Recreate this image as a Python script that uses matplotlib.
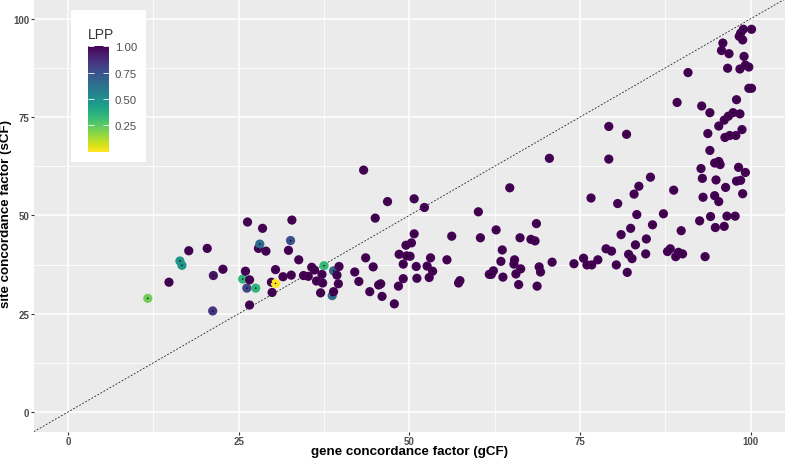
import matplotlib
matplotlib.use("Agg")
import matplotlib.pyplot as plt
import numpy as np
from matplotlib.patches import Rectangle
from matplotlib.cm import ScalarMappable
from matplotlib.colors import Normalize

plt.rcParams['font.family'] = ['Liberation Sans', 'DejaVu Sans']

# gene concordance factor, site concordance factor, LPP
gcf = [11.7, 14.8, 16.4, 16.7, 17.7, 20.4, 21.3, 21.2, 22.7, 25.6, 26.0, 26.2, 26.3, 26.6, 26.6,
       27.5, 27.9, 28.1, 28.5, 29.0, 29.8, 29.9, 30.4, 30.4, 31.5, 32.3, 32.6, 32.7, 32.8, 33.8,
       34.5, 35.2, 35.7, 36.1, 36.4, 37.0, 37.2, 37.3, 37.5, 38.7, 38.9, 38.9, 39.4, 39.6, 39.7,
       42.0, 42.6, 43.3, 43.6, 44.2, 44.7, 45.0, 45.5, 45.8, 46.0, 46.8, 47.8, 48.4, 48.5, 49.1,
       49.1, 49.5, 49.6, 50.1, 50.3, 50.7, 50.7, 51.0, 51.1, 52.2, 52.6, 52.9, 53.1, 53.4, 55.5,
       56.2, 57.2, 57.4, 60.1, 60.4, 61.7, 62.0, 62.3, 62.7, 63.4, 63.6, 63.7, 64.7, 65.3, 65.4,
       65.6, 66.0, 66.2, 66.3, 67.8, 68.4, 68.6, 68.7, 69.0, 69.2, 70.5, 70.9, 74.1, 75.5, 76.0,
       76.6, 76.7, 77.6, 78.8, 79.2, 79.2, 79.6, 80.3, 80.5, 81.0, 81.8, 81.9, 82.1, 82.4, 82.6,
       82.9, 83.1, 83.3, 83.6, 84.6, 84.7, 85.3, 85.6, 87.2, 87.8, 88.2, 88.7, 89.0, 89.2, 89.4,
       89.8, 90.0, 90.8, 92.5, 92.7, 92.8, 92.9, 93.0, 93.3, 93.7, 94.0, 94.0, 94.1, 94.7, 94.7,
       94.8, 94.9, 95.3, 95.3, 95.3, 95.5, 95.7, 95.9, 96.1, 96.1, 96.2, 96.3, 96.5, 96.6, 96.7,
       96.8, 96.9, 97.4, 97.7, 97.8, 97.9, 97.9, 98.2, 98.3, 98.4, 98.4, 98.5, 98.5, 98.7, 98.8,
       98.8, 98.9, 99.0, 99.2, 99.2, 99.7, 99.7, 100.1, 100.1]
scf = [28.9, 33.0, 38.4, 37.3, 41.0, 41.6, 34.7, 25.7, 36.3, 33.8, 35.8, 31.5, 48.3, 33.6, 27.2,
       31.5, 41.6, 42.7, 46.7, 40.9, 33.0, 30.4, 36.2, 32.7, 34.4, 41.1, 43.6, 34.8, 48.8, 38.7,
       34.7, 34.5, 36.8, 36.1, 33.3, 30.3, 35.0, 32.8, 37.2, 29.6, 30.6, 35.9, 34.8, 32.6, 37.0,
       35.6, 33.2, 61.5, 39.2, 30.6, 36.9, 49.3, 32.3, 32.6, 29.4, 53.5, 27.5, 32.0, 40.1, 37.6,
       33.9, 42.4, 39.7, 39.6, 43.0, 54.2, 45.3, 37.0, 34.0, 52.0, 37.1, 34.2, 39.2, 35.8, 38.7,
       44.7, 32.8, 33.4, 50.9, 44.3, 35.0, 35.0, 35.9, 46.3, 38.3, 41.2, 34.3, 57.0, 37.6, 38.7,
       35.1, 32.4, 44.3, 36.4, 43.9, 43.5, 47.9, 32.0, 36.9, 35.6, 64.5, 38.1, 37.7, 39.1, 37.4,
       54.4, 37.4, 38.7, 41.5, 72.6, 64.3, 40.9, 37.4, 53.0, 45.1, 70.6, 35.5, 40.1, 46.7, 39.0,
       55.4, 42.5, 50.2, 57.4, 40.2, 44.0, 59.7, 47.6, 50.4, 40.8, 41.5, 56.4, 39.5, 78.7, 40.6,
       46.1, 40.2, 86.3, 48.6, 61.9, 77.8, 59.4, 54.6, 39.5, 70.8, 76.1, 66.5, 49.7, 63.3, 55.0,
       46.9, 59.0, 63.7, 72.7, 53.5, 62.9, 91.9, 93.8, 74.2, 47.2, 69.8, 57.1, 49.8, 87.4, 75.2,
       91.1, 70.3, 76.1, 49.8, 70.3, 79.4, 58.7, 62.2, 95.5, 87.2, 75.8, 96.3, 58.9, 71.8, 94.6,
       55.5, 97.3, 90.4, 88.2, 60.9, 87.7, 82.3, 82.3, 97.3]
# first 45 points carry the lower-support values, the rest are 1.00
lpp = [0.22, 1, 0.48, 0.48, 1, 1, 0.95, 0.85, 1, 0.35, 1, 0.8, 1, 1, 1,
       0.35, 1, 0.65, 1, 1, 1, 1, 1, 0.0, 1, 1, 0.75, 1, 1, 1,
       1, 1, 1, 1, 1, 1, 1, 1, 0.33, 0.65, 1, 0.67, 1, 1, 1] + [1.0] * 144

cbar_ticks = [0.25, 0.50, 0.75, 1.00]
cbar_labels = ['0.25', '0.50', '0.75', '1.00']
axis_ticks = [0, 25, 50, 75, 100]

W, H = 787, 460
fig = plt.figure(figsize=(W / 100, H / 100), dpi=100)
ax = fig.add_axes([33.75 / W, 1 - 432.7 / H, (785 - 33.75) / W, 432.7 / H])
ax.set_facecolor('#EBEBEB')
for s in ax.spines.values():
    s.set_visible(False)

ax.set_xlim(-5, 105)
ax.set_ylim(-5, 105)
ax.set_xticks(axis_ticks)
ax.set_yticks(axis_ticks)
ax.set_xticks([12.5, 37.5, 62.5, 87.5], minor=True)
ax.set_yticks([12.5, 37.5, 62.5, 87.5], minor=True)
ax.grid(which='major', color='white', lw=1.1)
ax.grid(which='minor', color='white', lw=0.55)
ax.set_axisbelow(True)
ax.tick_params(which='major', length=2.5, width=0.8, color='#333333',
               labelsize=7, labelcolor='#4D4D4D', pad=0.8)
ax.tick_params(which='minor', length=0)
for lab in ax.get_xticklabels() + ax.get_yticklabels():
    lab.set_fontweight('bold')

ax.plot([-5, 105], [-5, 105], color='#222222', lw=0.6, ls=(0, (2.2, 2)), zorder=2)

ax.scatter(gcf, scf, c=lpp, cmap='viridis_r', vmin=0, vmax=1, s=44,
           edgecolors='none', zorder=3)
ax.scatter(gcf, scf, color='black', s=1.2, edgecolors='none', zorder=4)

# axis titles placed directly so they sit like the ggplot ones
fig.text(409 / W, 1 - 455.5 / H, 'gene concordance factor (gCF)', fontsize=9.6,
         fontweight='bold', ha='center', va='baseline')
fig.text(6.5 / W, 1 - 214 / H, 'site concordance factor (sCF)', fontsize=9.6,
         fontweight='bold', ha='center', va='center', rotation=90)

# legend box inside the panel
fig.patches.append(Rectangle((71 / W, 1 - 163.3 / H), 75 / W, 152.6 / H,
                             transform=fig.transFigure, facecolor='white',
                             edgecolor='none', zorder=5))
fig.text(87.7 / W, 1 - 35 / H, 'LPP', fontsize=10, color='#333333', va='center', zorder=6)
cax = fig.add_axes([87.7 / W, 1 - 152.7 / H, 21.6 / W, 105.4 / H], zorder=7)
sm = ScalarMappable(norm=Normalize(0, 1), cmap='viridis_r')
cb = fig.colorbar(sm, cax=cax, ticks=cbar_ticks)
cb.outline.set_visible(False)
cb.ax.set_yticklabels(cbar_labels)
cax.yaxis.set_ticks_position('both')
cax.tick_params(direction='in', length=4, width=0.6, color='white',
                labelsize=8.2, labelcolor='#4D4D4D', pad=4)

fig.savefig('out.png', dpi=100)
